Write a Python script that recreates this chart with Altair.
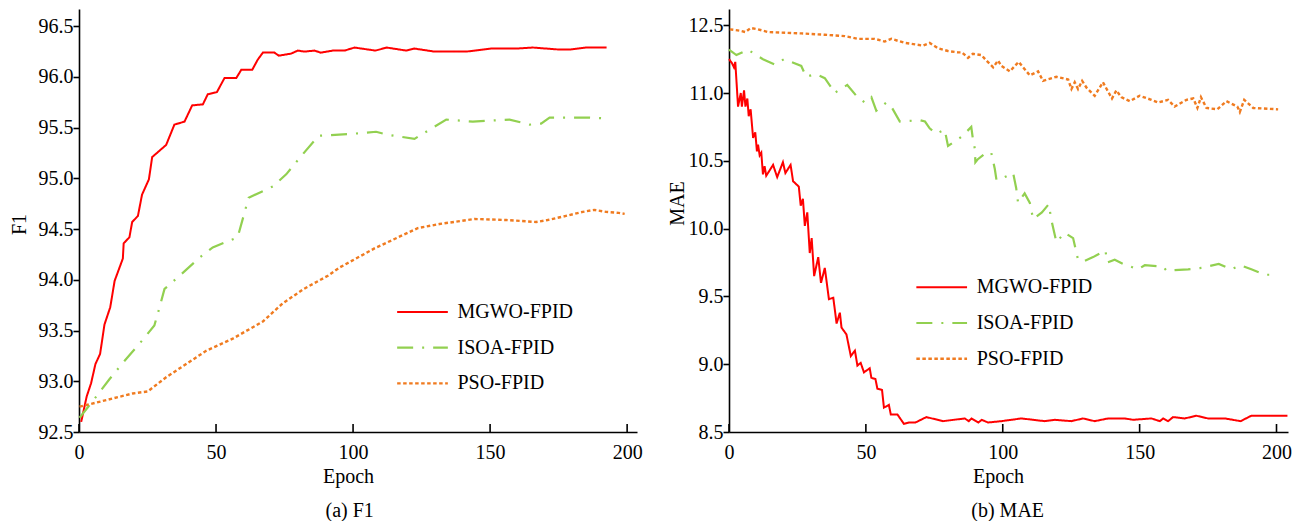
import altair as alt
import pandas as pd

SERIES = ["MGWO-FPID", "ISOA-FPID", "PSO-FPID"]
COLORS = ["#FF0000", "#92D050", "#F07B20"]
DASHES = [[1, 0], [16, 9, 2, 9], [3.5, 2.5]]
WIDTHS = [2.0, 2.4, 2.6]
FONT = "Liberation Serif"

# ---------------- (a) F1 ----------------
f1_mgwo_epoch = [0.8, 2.8, 4.4, 6.0, 7.7, 9.3, 11.4, 13.0, 16.0, 16.3, 18.4, 19.4, 21.5, 23.0, 25.5,
                 26.7, 31.8, 34.8, 38.5, 41.3, 45.2, 47.0, 50.3, 53.1, 57.4, 59.2, 63.2, 65.2, 67.1,
                 71.3, 72.9, 77.4, 79.8, 82.3, 85.9, 88.2, 92.6, 96.9, 100.5, 108.2, 112.3, 119.4,
                 122.4, 129.7, 141.3, 150.4, 159.5, 165.6, 175.3, 178.9, 185.0, 192.5]
f1_mgwo = [92.60, 92.85, 92.98, 93.17, 93.27, 93.56, 93.73, 93.99, 94.21, 94.36, 94.42, 94.57, 94.63,
           94.84, 94.99, 95.21, 95.33, 95.53, 95.56, 95.72, 95.73, 95.83, 95.85, 95.99, 95.99, 96.07,
           96.07, 96.17, 96.24, 96.24, 96.21, 96.23, 96.26, 96.25, 96.26, 96.24, 96.26, 96.26, 96.29,
           96.26, 96.29, 96.26, 96.28, 96.25, 96.25, 96.28, 96.28, 96.29, 96.27, 96.27, 96.29, 96.29]

f1_isoa_epoch = [0.2, 6.3, 11.1, 17.2, 23.3, 27.5, 29.4, 31.2, 36.7, 44.0, 48.8, 57.9, 61.9, 70.7,
                 75.6, 81.7, 87.4, 99.9, 108.4, 112.7, 122.4, 134.0, 143.7, 157.1, 164.4, 168.6,
                 171.7, 185.0, 193.5]
f1_isoa = [92.64, 92.85, 93.02, 93.22, 93.41, 93.55, 93.73, 93.91, 94.04, 94.22, 94.32, 94.42, 94.81,
           94.92, 95.04, 95.24, 95.42, 95.44, 95.46, 95.43, 95.39, 95.58, 95.56, 95.58, 95.53, 95.54,
           95.60, 95.60, 95.59]

f1_pso_epoch = [0.2, 6.3, 19.6, 25.1, 31.8, 39.1, 46.4, 56.1, 67.1, 74.4, 82.0, 90.8, 95.0, 107.8,
                115.7, 123.6, 131.5, 144.3, 155.9, 166.8, 171.0, 177.7, 183.8, 188.0, 192.3, 196.9,
                199.1]
f1_pso = [92.75, 92.79, 92.88, 92.90, 93.04, 93.17, 93.30, 93.42, 93.59, 93.77, 93.91, 94.04, 94.12,
          94.31, 94.41, 94.51, 94.55, 94.60, 94.59, 94.57, 94.59, 94.63, 94.67, 94.69, 94.67, 94.66,
          94.65]

# ---------------- (b) MAE ----------------
mae_mgwo_epoch = [0, 1.1, 1.8, 2.3, 3.3, 4.3, 4.7, 5.5, 6.0, 6.7, 7.2, 7.9, 8.8, 9.6, 10.2, 10.6,
                  11.2, 11.8, 12.4, 13.0, 13.6, 16.1, 17.6, 19.7, 20.6, 22.5, 23.4, 25.5, 26.2, 27.0,
                  27.7, 28.6, 29.5, 30.2, 31.1, 32.6, 33.6, 35.0, 36.5, 38.1, 39.3, 40.5, 41.1, 42.9,
                  44.5, 46.0, 46.9, 48.1, 49.3, 51.4, 52.0, 53.5, 54.2, 55.9, 56.6, 58.4, 59.1, 61.5,
                  63.9, 65.7, 68.1, 72.1, 78.2, 86.1, 87.6, 88.6, 91.1, 92.3, 94.6, 99.5, 106.8,
                  115.3, 119.0, 125.1, 129.3, 133.6, 138.5, 144.6, 147.6, 154.3, 157.4, 158.6, 160.4,
                  162.2, 166.5, 170.7, 175.0, 181.1, 186.9, 190.8, 204.0]
mae_mgwo = [11.25, 11.22, 11.19, 11.23, 10.90, 11.00, 10.90, 11.02, 10.90, 10.96, 10.83, 10.88, 10.67,
            10.71, 10.57, 10.62, 10.54, 10.56, 10.40, 10.46, 10.39, 10.47, 10.38, 10.49, 10.41, 10.47,
            10.35, 10.31, 10.17, 10.22, 10.02, 10.12, 9.82, 9.93, 9.65, 9.79, 9.60, 9.71, 9.48, 9.49,
            9.30, 9.38, 9.27, 9.22, 9.06, 9.10, 8.99, 9.01, 8.94, 8.97, 8.90, 8.89, 8.82, 8.81, 8.68,
            8.70, 8.63, 8.63, 8.56, 8.57, 8.57, 8.61, 8.58, 8.60, 8.58, 8.60, 8.57, 8.59, 8.57, 8.58,
            8.60, 8.58, 8.59, 8.58, 8.60, 8.58, 8.60, 8.60, 8.59, 8.60, 8.58, 8.60, 8.58, 8.61, 8.60,
            8.62, 8.60, 8.60, 8.58, 8.62, 8.62]

mae_isoa_epoch = [0, 2.7, 6.9, 12.4, 16.7, 20.1, 26.4, 28.2, 31.7, 35.0, 37.4, 38.5, 43.2, 46.5, 49.6,
                  52.0, 53.8, 57.5, 59.3, 62.4, 69.7, 71.6, 73.3, 75.7, 78.8, 80.0, 85.1, 88.5, 89.1,
                  89.8, 90.0, 90.8, 93.9, 95.8, 97.1, 97.7, 100.7, 103.8, 104.9, 105.6, 108.0, 109.9,
                  111.1, 114.3, 116.8, 117.8, 119.6, 122.6, 125.7, 127.5, 129.7, 133.0, 137.5, 138.2,
                  140.9, 144.0, 149.4, 151.9, 158.6, 159.8, 167.7, 172.6, 178.9, 183.5, 186.9, 190.8,
                  195.7, 199.1]
mae_isoa = [11.32, 11.28, 11.32, 11.25, 11.21, 11.25, 11.20, 11.12, 11.14, 11.11, 11.04, 11.00, 11.06,
            10.98, 10.93, 10.97, 10.87, 10.93, 10.90, 10.79, 10.80, 10.79, 10.74, 10.70, 10.73, 10.61,
            10.68, 10.75, 10.66, 10.59, 10.49, 10.51, 10.56, 10.56, 10.44, 10.36, 10.38, 10.41, 10.30,
            10.19, 10.26, 10.19, 10.07, 10.12, 10.18, 10.06, 9.90, 9.97, 9.93, 9.77, 9.76, 9.79, 9.84,
            9.75, 9.77, 9.74, 9.70, 9.73, 9.72, 9.69, 9.70, 9.71, 9.74, 9.70, 9.73, 9.70, 9.66, 9.66]

mae_pso_epoch = [0.3, 3.9, 6.0, 7.9, 10.6, 14.2, 26.4, 35.0, 42.3, 47.1, 53.2, 56.9, 59.3, 64.2, 70.9,
                 73.3, 76.4, 80.0, 83.7, 85.1, 87.3, 89.1, 92.2, 94.0, 96.5, 98.3, 99.5, 102.6, 105.8,
                 109.9, 112.9, 114.7, 119.6, 123.9, 125.1, 126.3, 127.5, 129.0, 130.6, 133.6, 136.6,
                 138.5, 139.9, 141.5, 143.3, 146.4, 150.0, 154.3, 156.7, 160.4, 162.8, 167.1, 169.6,
                 171.1, 172.4, 174.4, 178.4, 181.7, 185.7, 186.6, 188.2, 191.5, 200.6]
mae_pso = [11.47, 11.46, 11.45, 11.48, 11.47, 11.45, 11.44, 11.43, 11.42, 11.40, 11.40, 11.38, 11.40,
           11.37, 11.35, 11.37, 11.33, 11.31, 11.30, 11.30, 11.26, 11.29, 11.28, 11.24, 11.19, 11.24,
           11.20, 11.16, 11.23, 11.13, 11.16, 11.09, 11.12, 11.10, 11.03, 11.08, 11.03, 11.09, 11.04,
           10.98, 11.08, 11.01, 10.96, 11.02, 10.97, 10.94, 10.98, 10.95, 10.93, 10.95, 10.90, 10.95,
           10.96, 10.89, 10.97, 10.89, 10.88, 10.94, 10.90, 10.86, 10.95, 10.89, 10.88]

x_ticks = [0, 50, 100, 150, 200]
f1_ticks = [92.5, 93.0, 93.5, 94.0, 94.5, 95.0, 95.5, 96.0, 96.5]
mae_ticks = [8.5, 9.0, 9.5, 10.0, 10.5, 11.0, 11.5]


def long_df(parts):
    rows = []
    for name, ep, vals in parts:
        for e, v in zip(ep, vals):
            rows.append({"series": name, "epoch": e, "value": v})
    return pd.DataFrame(rows)


f1_df = long_df([("MGWO-FPID", f1_mgwo_epoch, f1_mgwo),
                 ("ISOA-FPID", f1_isoa_epoch, f1_isoa),
                 ("PSO-FPID", f1_pso_epoch, f1_pso)])
mae_df = long_df([("MGWO-FPID", mae_mgwo_epoch, mae_mgwo),
                  ("ISOA-FPID", mae_isoa_epoch, mae_isoa),
                  ("PSO-FPID", mae_pso_epoch, mae_pso)])
tick_df = pd.DataFrame({"epoch": x_ticks})

H = 423


def panel(df, width, xmax, ytitle, ydomain, yticks, label_expr, ytitle_x, ytitle_y,
          leg_x, leg_y, caption, cap_dx):
    leg = alt.Legend(orient="none", legendX=leg_x, legendY=leg_y, title=None,
                     labelFont=FONT, labelFontSize=20, labelColor="black")
    xscale = alt.Scale(domain=[0, xmax], nice=False, zero=False)
    lines = alt.Chart(df).mark_line(clip=False).encode(
        x=alt.X("epoch:Q", scale=xscale,
                axis=alt.Axis(values=x_ticks, title="Epoch", tickSize=0, labelPadding=10,
                              titleX=269, titleY=44, titleBaseline="middle",
                              domainWidth=1.6, labelFont=FONT, titleFont=FONT)),
        y=alt.Y("value:Q", scale=alt.Scale(domain=ydomain, nice=False, zero=False),
                axis=alt.Axis(values=yticks, title=ytitle, tickSize=6, tickWidth=1.6,
                              labelPadding=0, labelExpr=label_expr, domainWidth=1.6,
                              titleX=ytitle_x, titleY=ytitle_y, titleBaseline="middle",
                              labelFont=FONT, titleFont=FONT)),
        color=alt.Color("series:N", scale=alt.Scale(domain=SERIES, range=COLORS), legend=leg),
        strokeDash=alt.StrokeDash("series:N", scale=alt.Scale(domain=SERIES, range=DASHES), legend=leg),
        strokeWidth=alt.StrokeWidth("series:N", scale=alt.Scale(domain=SERIES, range=WIDTHS), legend=leg),
    )
    ticks = alt.Chart(tick_df).mark_rule(color="black", strokeWidth=1.6).encode(
        x=alt.X("epoch:Q", scale=xscale),
        y=alt.value(H),
        y2=alt.value(H - 8),
    )
    return alt.layer(lines, ticks).properties(
        width=width, height=H,
        title=alt.TitleParams(caption, orient="bottom", anchor="start", frame="group", dx=cap_dx,
                              offset=15, font=FONT, fontSize=20, fontWeight="normal",
                              color="black"),
    )


left = panel(f1_df, 558, 203.6, "F1", [92.5, 96.67], f1_ticks,
             "format(datum.value, '.1f')", -60, 215, 316.5, 293, "(a) F1", 246.5)
right = panel(mae_df, 559, 204.2, "MAE", [8.5, 11.62], mae_ticks,
              "datum.value == 11.5 ? '12.5' : format(datum.value, '.1f')", -52, 194,
              185.7, 268.3, "(b) MAE", 242.3)

chart = alt.hconcat(left, right, spacing=24).resolve_scale(
    x="independent", y="independent", color="independent",
    strokeDash="independent", strokeWidth="independent"
).resolve_legend(
    color="independent", strokeDash="independent", strokeWidth="independent"
).properties(
    padding={"left": 1, "top": 1, "right": 0, "bottom": 0}
).configure_view(stroke=None).configure_axis(
    grid=False, labelFont=FONT, labelFontSize=20, labelColor="black",
    titleFont=FONT, titleFontSize=20, titleFontWeight="normal", titleColor="black",
    domainColor="black", tickColor="black", labelFlush=False, labelOverlap=False
).configure_legend(
    labelFont=FONT, labelFontSize=20, labelColor="black", symbolType="stroke",
    symbolSize=2570, clipHeight=20, rowPadding=15.7, labelOffset=8, padding=0,
    symbolStrokeWidth=2.2, labelLimit=300
)

chart.save("out.html", embed_options={"renderer": "svg", "actions": False})
